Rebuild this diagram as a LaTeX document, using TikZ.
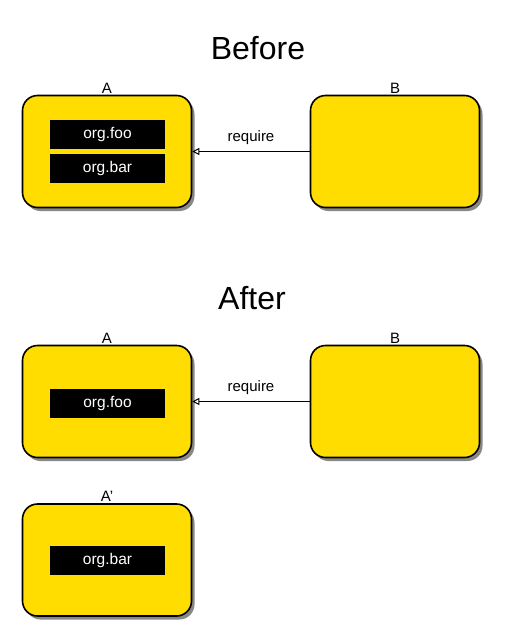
\documentclass[tikz,border=0pt]{standalone}
\usepackage{fontspec}
\setmainfont{Liberation Sans}
\usetikzlibrary{arrows.meta}
\usetikzlibrary{shadows}

\definecolor{boxyellow}{RGB}{255,221,0}

\tikzset{
  module/.style={draw=black, line width=1.6pt, fill=boxyellow, rounded corners=15pt,
    minimum width=169pt, minimum height=112pt, inner sep=0pt,
    drop shadow={shadow xshift=3pt, shadow yshift=-3.5pt, opacity=0.85, fill=black!55}},
  pkg/.style={fill=black, text=white, font=\fontsize{15.5}{18}\selectfont,
    minimum width=115pt, minimum height=29pt, inner sep=0pt},
  modlabel/.style={font=\fontsize{15}{17}\selectfont, inner sep=1.5pt},
  title/.style={font=\fontsize{32}{36}\selectfont},
  req/.style={line width=1.3pt, -{Triangle[open, length=7pt, width=7pt, line width=1pt]}}
}

\begin{document}
\begin{tikzpicture}[x=1pt, y=-1pt]
            % Page frame, in pixels of the reference
            \useasboundingbox (0,0) rectangle (508,640);

            % Centres of the modules
            \coordinate (cA1) at (107, 151.5);
            \coordinate (cB1) at (395, 151.5);
            \coordinate (cA2) at (107, 401.5);
            \coordinate (cB2) at (395, 401.5);
            \coordinate (cA3) at (107, 560);

            % Before
            \node[title] (before) at (258, 48) {Before};
            \node[module, label={[modlabel]above:A}] (A1) at (cA1) {};
            \node[module, label={[modlabel]above:B}] (B1) at (cB1) {};
            \node[pkg] (foo1) at (107.5, 134.5) {org.foo};
            \node[pkg] (bar1) at (107.5, 168) {org.bar};
            \draw[req] (B1) -- node[modlabel, above=5pt] (req1) {require} (A1);

            % After
            \node[title] (after) at (252, 298) {After};
            \node[module, label={[modlabel]above:A}] (A2) at (cA2) {};
            \node[module, label={[modlabel]above:B}] (B2) at (cB2) {};
            \node[pkg] (foo2) at (107.5, 403) {org.foo};
            \draw[req] (B2) -- node[modlabel, above=5pt] (req2) {require} (A2);

            % Split module
            \node[module, label={[modlabel]above:A'}] (A3) at (cA3) {};
            \node[pkg] (bar3) at (107.5, 560.5) {org.bar};

        \end{tikzpicture}
\end{document}
